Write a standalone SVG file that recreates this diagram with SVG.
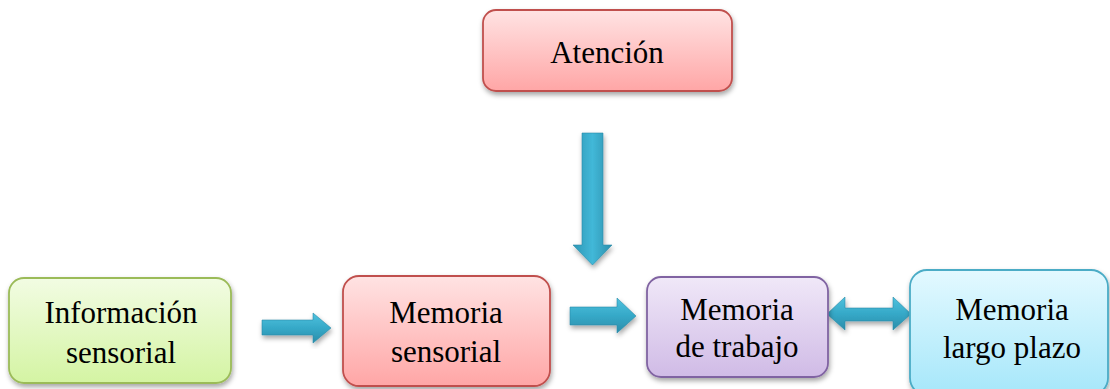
<svg xmlns="http://www.w3.org/2000/svg" width="1110" height="389" viewBox="0 0 1110 389">
<defs>
<linearGradient id="gPink" x1="0" y1="0" x2="0" y2="1"><stop offset="0" stop-color="#FFE3E3"/><stop offset="1" stop-color="#FFA6A6"/></linearGradient>
<linearGradient id="gGreen" x1="0" y1="0" x2="0" y2="1"><stop offset="0" stop-color="#F2FCE3"/><stop offset="1" stop-color="#D4F4A3"/></linearGradient>
<linearGradient id="gPurple" x1="0" y1="0" x2="0" y2="1"><stop offset="0" stop-color="#F0E8F8"/><stop offset="1" stop-color="#D0BBE6"/></linearGradient>
<linearGradient id="gCyan" x1="0" y1="0" x2="0" y2="1"><stop offset="0" stop-color="#E3F9FF"/><stop offset="1" stop-color="#A6E7FA"/></linearGradient>
<linearGradient id="gArrH" x1="0" y1="0" x2="0" y2="1"><stop offset="0" stop-color="#4EC1DE"/><stop offset="0.5" stop-color="#36A9C8"/><stop offset="1" stop-color="#2A8DAA"/></linearGradient>
<linearGradient id="gArrV" x1="0" y1="0" x2="1" y2="0"><stop offset="0" stop-color="#2E97B5"/><stop offset="0.5" stop-color="#42B8D8"/><stop offset="1" stop-color="#2B8FAC"/></linearGradient>
<filter id="sh" x="-10%" y="-10%" width="125%" height="130%"><feDropShadow dx="1" dy="3" stdDeviation="2.5" flood-color="#000" flood-opacity="0.35"/></filter>
</defs>
<style>
.box{stroke-width:1.8;filter:url(#sh)}
.pink{fill:url(#gPink);stroke:#C0504D}
.green{fill:url(#gGreen);stroke:#9BBB59}
.purple{fill:url(#gPurple);stroke:#8064A2}
.cyan{fill:url(#gCyan);stroke:#4BACC6}
.t{font-family:"Liberation Serif","Times New Roman",serif;font-size:31px;fill:#000;text-anchor:middle}
.ah{fill:url(#gArrH);stroke:#2A8CA8;stroke-width:0.6;filter:url(#sh)}
.av{fill:url(#gArrV);stroke:#2A8CA8;stroke-width:0.6;filter:url(#sh)}
</style>
<g id="connectors">
<path class="av" d="M582,133 L603,133 L603,245 L612,245 L592.5,265 L573,245 L582,245 Z"/>
<path class="ah" d="M262,320 L313,320 L313,313 L331,328 L313,343 L313,335 L262,335 Z"/>
<path class="ah" d="M570,307 L617,307 L617,298 L636,316 L617,333 L617,325 L570,325 Z"/>
<path class="ah" d="M827,314 L845,297 L845,308 L893,308 L893,297 L911,314 L893,330 L893,321 L845,321 L845,330 Z"/>
</g>
<g id="atencion">
<rect class="box pink" x="483" y="10" width="249" height="81" rx="13"/>
<text class="t" x="607" y="63">Atención</text>
</g>
<g id="info-sensorial">
<rect class="box green" x="9" y="278" width="222" height="105" rx="15"/>
<text class="t" x="121" y="323">Información</text>
<text class="t" x="121" y="363">sensorial</text>
</g>
<g id="memoria-sensorial">
<rect class="box pink" x="343" y="276" width="207" height="110" rx="16"/>
<text class="t" x="446" y="323">Memoria</text>
<text class="t" x="446" y="362">sensorial</text>
</g>
<g id="memoria-trabajo">
<rect class="box purple" x="647" y="277" width="181" height="100" rx="14"/>
<text class="t" x="737" y="320">Memoria</text>
<text class="t" x="737" y="357">de trabajo</text>
</g>
<g id="memoria-largo">
<rect class="box cyan" x="910" y="270" width="198" height="125" rx="17"/>
<text class="t" x="1012" y="320">Memoria</text>
<text class="t" x="1012" y="358">largo plazo</text>
</g>
</svg>
